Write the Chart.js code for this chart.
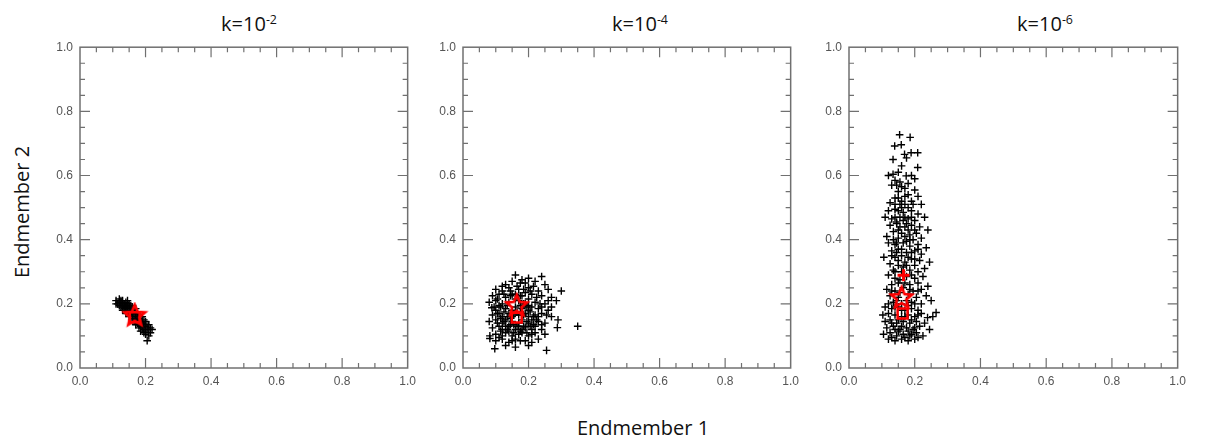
<!DOCTYPE html>
<html>
<head>
<meta charset="utf-8">
<script src="https://cdn.jsdelivr.net/npm/chart.js@4.4.0/dist/chart.umd.min.js"></script>
<style>
  body { margin: 0; background: #fff; width: 1205px; height: 441px; position: relative; overflow: hidden; font-family: "Open Sans", sans-serif; }
  canvas { position: absolute; }
  .title { position: absolute; top: 10px; font-size: 20px; color: #111; transform: translateX(-50%); white-space: nowrap; }
  .title sup { font-size: 0.62em; vertical-align: 0.55em; line-height: 0; }
  .axlab { position: absolute; font-size: 20px; color: #111; white-space: nowrap; }
</style>
</head>
<body>
<div class="title" style="left:249px">k=10<sup>-2</sup></div>
<div class="title" style="left:640px">k=10<sup>-4</sup></div>
<div class="title" style="left:1045px">k=10<sup>-6</sup></div>
<div class="axlab" style="left:21px; top:212px; transform:translate(-50%,-50%) rotate(-90deg)">Endmember 2</div>
<div class="axlab" style="left:643px; top:427px; transform:translate(-50%,-50%)">Endmember 1</div>

<canvas id="c1" style="left:40px; top:33px" width="382" height="370"></canvas>
<canvas id="c2" style="left:423px; top:33px" width="382" height="370"></canvas>
<canvas id="c3" style="left:809px; top:33px" width="383" height="370"></canvas>

<script>
// axis ticks shared by all three panels
var tickValues = [0.0, 0.2, 0.4, 0.6, 0.8, 1.0];

// k=10^-2 : tight diagonal cloud
var cloudK2 = [
  [0.11,0.21],[0.12,0.215],[0.115,0.2],[0.125,0.205],[0.13,0.21],[0.12,0.195],[0.135,0.2],[0.13,0.19],
  [0.14,0.205],[0.11,0.2],[0.125,0.19],[0.14,0.195],[0.145,0.2],[0.135,0.185],[0.15,0.19],[0.14,0.18],
  [0.13,0.18],[0.155,0.185],[0.145,0.175],[0.15,0.17],[0.16,0.18],[0.155,0.165],[0.165,0.175],[0.14,0.17],
  [0.15,0.16],[0.16,0.16],[0.17,0.17],[0.165,0.155],[0.175,0.16],[0.17,0.145],[0.18,0.155],[0.16,0.15],
  [0.175,0.14],[0.185,0.145],[0.18,0.135],[0.19,0.14],[0.185,0.13],[0.195,0.135],[0.17,0.135],[0.18,0.125],
  [0.19,0.125],[0.2,0.13],[0.195,0.12],[0.2,0.115],[0.185,0.115],[0.205,0.125],[0.21,0.12],[0.2,0.105],
  [0.215,0.11],[0.21,0.1],[0.205,0.085],[0.22,0.12],[0.195,0.15],[0.2,0.145],[0.19,0.16],[0.155,0.195],
  [0.145,0.21],[0.12,0.205],[0.13,0.2],[0.16,0.17],[0.17,0.16],[0.18,0.15],[0.19,0.13],[0.165,0.145],
  [0.155,0.175],[0.145,0.185],[0.135,0.195],[0.125,0.21],[0.175,0.15],[0.185,0.14],[0.2,0.14],[0.21,0.135],
  [0.215,0.125],[0.17,0.185],[0.16,0.19],[0.15,0.2],[0.14,0.19],[0.175,0.17],[0.195,0.11],[0.18,0.165]
];

// k=10^-4 : rounder, wider cloud
var cloudK4 = [
  [0.16,0.29],[0.2,0.28],[0.24,0.285],[0.18,0.275],
  [0.13,0.26],[0.15,0.27],[0.19,0.265],[0.22,0.27],[0.25,0.26],[0.12,0.255],
  [0.1,0.245],[0.12,0.24],[0.14,0.25],[0.17,0.245],[0.2,0.25],[0.23,0.24],[0.26,0.245],[0.3,0.24],
  [0.09,0.225],[0.11,0.23],[0.13,0.22],[0.15,0.23],[0.18,0.225],[0.21,0.23],[0.24,0.225],[0.27,0.22],[0.16,0.215],
  [0.08,0.205],[0.1,0.21],[0.12,0.2],[0.14,0.205],[0.17,0.21],[0.19,0.2],[0.22,0.205],[0.25,0.2],[0.285,0.21],[0.2,0.215],
  [0.088,0.188],[0.1,0.18],[0.115,0.19],[0.13,0.185],[0.15,0.18],[0.16,0.19],[0.18,0.185],[0.2,0.18],[0.21,0.19],[0.23,0.185],[0.26,0.18],
  [0.09,0.165],[0.11,0.17],[0.12,0.16],[0.14,0.17],[0.15,0.16],[0.17,0.165],[0.19,0.17],[0.2,0.16],[0.22,0.165],[0.24,0.17],[0.27,0.16],
  [0.08,0.145],[0.1,0.15],[0.12,0.14],[0.13,0.15],[0.15,0.145],[0.17,0.14],[0.18,0.15],[0.2,0.14],[0.21,0.15],[0.23,0.145],[0.25,0.14],[0.29,0.15],
  [0.09,0.125],[0.11,0.13],[0.12,0.12],[0.14,0.13],[0.16,0.12],[0.17,0.13],[0.19,0.125],[0.21,0.12],[0.22,0.13],[0.24,0.12],[0.288,0.126],[0.35,0.13],
  [0.082,0.1],[0.1,0.105],[0.12,0.1],[0.13,0.11],[0.15,0.1],[0.17,0.105],[0.18,0.11],[0.2,0.1],[0.22,0.11],[0.25,0.105],
  [0.082,0.092],[0.1,0.085],[0.12,0.09],[0.14,0.08],[0.16,0.09],[0.19,0.085],[0.21,0.08],[0.23,0.09],
  [0.097,0.06],[0.13,0.07],[0.16,0.065],[0.2,0.07],[0.255,0.055],
  [0.125,0.175],[0.135,0.195],[0.145,0.155],[0.155,0.135],[0.165,0.175],[0.175,0.195],[0.185,0.165],[0.195,0.145],
  [0.205,0.175],[0.215,0.135],[0.105,0.14],[0.11,0.195],[0.16,0.23],[0.19,0.235],[0.14,0.115],[0.18,0.12],
  [0.2,0.195],[0.13,0.13],[0.175,0.225],[0.145,0.225],
  [0.105,0.215],[0.125,0.23],[0.145,0.24],[0.165,0.255],[0.185,0.245],[0.205,0.24],[0.225,0.22],[0.235,0.2],
  [0.23,0.16],[0.215,0.16],[0.195,0.19],[0.185,0.2],[0.175,0.175],[0.155,0.165],[0.135,0.16],[0.115,0.155],
  [0.095,0.19],[0.105,0.17],[0.125,0.145],[0.145,0.135],[0.165,0.13],[0.185,0.13],[0.205,0.13],[0.225,0.15],
  [0.24,0.135],[0.115,0.115],[0.135,0.12],[0.155,0.11],[0.175,0.115],[0.195,0.11],[0.21,0.105],[0.11,0.095],
  [0.15,0.085],[0.175,0.085],[0.24,0.19],[0.26,0.21],[0.255,0.165],[0.27,0.19],[0.215,0.255],[0.175,0.265]
];

// k=10^-6 : tall column
var cloudK6 = [
  [0.154,0.727],[0.186,0.719],[0.139,0.692],[0.159,0.696],[0.169,0.666],[0.189,0.671],[0.209,0.671],[0.134,0.65],[0.175,0.655],
  [0.209,0.625],[0.134,0.604],[0.174,0.599],[0.15,0.61],[0.12,0.6],[0.16,0.63],[0.19,0.6],[0.14,0.585],[0.2,0.59],
  [0.13,0.57],[0.16,0.565],[0.18,0.575],[0.15,0.55],[0.2,0.555],[0.14,0.53],[0.17,0.535],[0.19,0.52],[0.21,0.535],
  [0.125,0.515],[0.155,0.51],[0.18,0.5],[0.16,0.52],[0.22,0.51],
  [0.12,0.49],[0.14,0.495],[0.165,0.485],[0.19,0.49],[0.21,0.48],[0.11,0.47],[0.13,0.465],[0.155,0.47],[0.18,0.465],
  [0.2,0.46],[0.23,0.47],[0.125,0.445],[0.145,0.45],[0.17,0.44],[0.19,0.445],[0.215,0.44],[0.135,0.425],[0.16,0.42],
  [0.18,0.43],[0.205,0.42],[0.24,0.43],[0.115,0.41],[0.15,0.405],[0.17,0.41],[0.195,0.4],[0.22,0.405],
  [0.12,0.39],[0.14,0.385],[0.165,0.39],[0.185,0.38],[0.21,0.385],[0.235,0.375],[0.13,0.365],[0.15,0.37],[0.175,0.36],
  [0.2,0.365],[0.22,0.355],[0.106,0.345],[0.14,0.345],[0.16,0.35],[0.19,0.34],[0.215,0.335],[0.245,0.33],[0.125,0.325],
  [0.15,0.32],[0.17,0.33],[0.2,0.32],[0.23,0.31],[0.135,0.305],[0.16,0.3],[0.185,0.305],[0.21,0.3],
  [0.12,0.29],[0.14,0.28],[0.175,0.285],[0.2,0.28],[0.225,0.285],[0.13,0.26],[0.15,0.265],[0.185,0.26],[0.21,0.265],
  [0.24,0.255],[0.115,0.245],[0.14,0.24],[0.165,0.25],[0.195,0.24],[0.22,0.245],[0.125,0.225],[0.15,0.22],[0.18,0.23],
  [0.205,0.22],[0.235,0.225],[0.135,0.205],[0.16,0.2],[0.19,0.205],[0.22,0.2],[0.25,0.21],
  [0.11,0.19],[0.13,0.185],[0.15,0.19],[0.17,0.18],[0.19,0.185],[0.21,0.18],[0.239,0.157],[0.265,0.173],[0.255,0.16],
  [0.103,0.165],[0.12,0.17],[0.14,0.165],[0.16,0.16],[0.18,0.165],[0.2,0.16],[0.22,0.17],[0.11,0.145],[0.125,0.15],
  [0.145,0.14],[0.165,0.145],[0.185,0.14],[0.205,0.145],[0.23,0.14],[0.115,0.125],[0.135,0.13],[0.155,0.12],[0.175,0.125],
  [0.195,0.12],[0.215,0.13],[0.245,0.12],[0.105,0.105],[0.125,0.11],[0.145,0.1],[0.165,0.105],[0.185,0.1],[0.205,0.11],
  [0.225,0.1],[0.12,0.09],[0.14,0.085],[0.16,0.09],[0.18,0.085],[0.2,0.09],[0.15,0.115],[0.17,0.095],[0.13,0.095],
  [0.19,0.105],[0.21,0.095],
  [0.155,0.44],[0.175,0.395],[0.145,0.36],[0.165,0.315],[0.155,0.275],[0.17,0.265],[0.145,0.455],[0.185,0.415],
  [0.16,0.37],[0.18,0.345],[0.15,0.335],[0.19,0.36],[0.135,0.4],[0.17,0.47],[0.16,0.5],[0.14,0.51],[0.18,0.54],[0.155,0.58],
  [0.14,0.12],[0.16,0.13],[0.18,0.115],[0.2,0.125],[0.13,0.14],[0.15,0.15],[0.17,0.16],[0.19,0.15],[0.21,0.165],
  [0.12,0.2],[0.14,0.19],[0.16,0.18],[0.18,0.195],[0.2,0.2],[0.145,0.21],[0.175,0.21],[0.13,0.24],[0.155,0.235],
  [0.185,0.245],[0.21,0.24],[0.14,0.3],[0.19,0.29],[0.13,0.35],[0.175,0.32],[0.2,0.34],[0.145,0.39],[0.185,0.4],
  [0.21,0.37],[0.15,0.43],[0.2,0.43],[0.175,0.45],[0.14,0.47],[0.19,0.47],[0.165,0.46],[0.15,0.49],[0.17,0.51],
  [0.195,0.51],[0.15,0.53],[0.17,0.56],[0.145,0.57]
];

// red summary markers per panel (star, square, plus)
var starPts   = [[0.167,0.163],[0.164,0.194],[0.16,0.218]];
var squarePts = [[0.167,0.158],[0.164,0.157],[0.163,0.17]];
var plusPts   = [null, null, [0.166,0.289]];

function toXY(arr) {
    return arr.map(function (p) { return { x: p[0], y: p[1] }; });
}

function starImage(r, color) {
    var c = document.createElement('canvas');
    var s = Math.ceil(r * 2 + 6);
    c.width = s; c.height = s;
    var g = c.getContext('2d');
    g.strokeStyle = color;
    g.lineWidth = 2.6;
    g.beginPath();
    for (var i = 0; i < 10; i++) {
        var rr = (i % 2) ? r * 0.45 : r;
        var ang = -Math.PI / 2 + i * Math.PI / 5;
        g.lineTo(s / 2 + rr * Math.cos(ang), s / 2 + rr * Math.sin(ang));
    }
    g.closePath();
    g.stroke();
    return c;
}

var redStar = starImage(11, '#ff0000');

// frame + inward ticks on all four sides
var frameTicks = {
    id: 'frameTicks',
    afterDatasetsDraw: function (chart) {
        var ctx = chart.ctx, a = chart.chartArea;
        var xs = chart.scales.x, ys = chart.scales.y;
        ctx.save();
        ctx.strokeStyle = '#707070';
        ctx.lineWidth = 1.5;
        ctx.strokeRect(a.left, a.top, a.right - a.left, a.bottom - a.top);
        ctx.lineWidth = 1.2;
        ctx.beginPath();
        for (var i = 1; i < 20; i++) {
            var v = i * 0.05;
            var len = (i % 4 === 0) ? 10 : 5;
            var px = xs.getPixelForValue(v), py = ys.getPixelForValue(v);
            ctx.moveTo(px, a.bottom); ctx.lineTo(px, a.bottom - len);
            ctx.moveTo(px, a.top); ctx.lineTo(px, a.top + len);
            ctx.moveTo(a.left, py); ctx.lineTo(a.left + len, py);
            ctx.moveTo(a.right, py); ctx.lineTo(a.right - len, py);
        }
        ctx.stroke();
        ctx.restore();
    }
};

var tickFont = { family: '"Liberation Sans", Arial, sans-serif', size: 12 };

function axis(isX) {
    return {
        type: 'linear',
        min: 0,
        max: 1,
        afterBuildTicks: function (scale) {
            scale.ticks = tickValues.map(function (v) { return { value: v }; });
        },
        ticks: {
            color: '#555',
            font: tickFont,
            padding: isX ? 6 : 7,
            maxRotation: 0,
            autoSkip: false,
            callback: function (v) { return Number(v).toFixed(1); }
        },
        grid: { display: false, drawTicks: false },
        border: { display: false },
        afterFit: function (scale) {
            if (isX) scale.height = 30; else scale.width = 40;
        }
    };
}

function makePanel(id, idx, cloud) {
    var datasets = [
        { data: toXY([starPts[idx]]), pointStyle: redStar, pointRadius: 12, order: 0 },
        { data: toXY([squarePts[idx]]), pointStyle: 'rect', pointRadius: 7, borderColor: '#ff0000',
          backgroundColor: 'rgba(0,0,0,0)', borderWidth: 2.5, order: 0 }
    ];
    if (plusPts[idx]) {
        datasets.push({ data: toXY([plusPts[idx]]), pointStyle: 'cross', pointRadius: 6,
                        borderColor: '#ff0000', borderWidth: 3, order: 0 });
    }
    datasets.push({ data: toXY(cloud), pointStyle: 'cross', pointRadius: 3.8,
                    borderColor: '#000', borderWidth: 1.4, order: 1 });

    new Chart(document.getElementById(id).getContext('2d'), {
        type: 'scatter',
        data: { datasets: datasets },
        options: {
            responsive: false,
            animation: false,
            events: [],
            layout: { padding: { top: 10, right: 12, bottom: 5, left: 0 } },
            scales: { x: axis(true), y: axis(false) },
            plugins: { legend: { display: false }, tooltip: { enabled: false } }
        },
        plugins: [frameTicks]
    });
}

makePanel('c1', 0, cloudK2);
makePanel('c2', 1, cloudK4);
makePanel('c3', 2, cloudK6);
</script>
</body>
</html>
